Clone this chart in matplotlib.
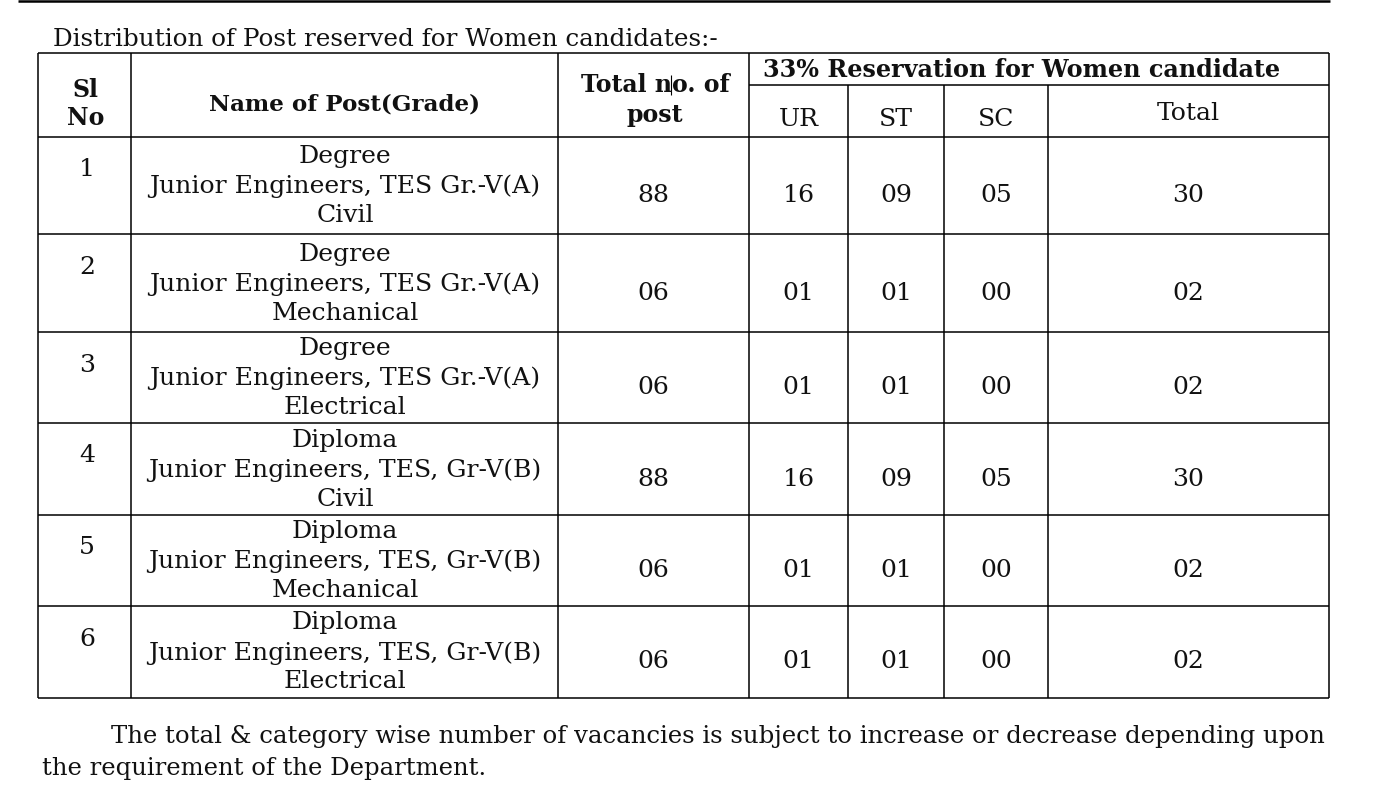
import matplotlib
matplotlib.use("Agg")
import matplotlib.pyplot as plt

# table content
title = "Distribution of Post reserved for Women candidates:-"
sl_no = ["1", "2", "3", "4", "5", "6"]
qualification = ["Degree", "Degree", "Degree", "Diploma", "Diploma", "Diploma"]
post_name = ["Junior Engineers, TES Gr.-V(A)"] * 3 + ["Junior Engineers, TES, Gr-V(B)"] * 3
branch = ["Civil", "Mechanical", "Electrical", "Civil", "Mechanical", "Electrical"]
total_posts = ["88", "06", "06", "88", "06", "06"]
ur = ["16", "01", "01", "16", "01", "01"]
st = ["09", "01", "01", "09", "01", "01"]
sc = ["05", "00", "00", "05", "00", "00"]
total_women = ["30", "02", "02", "30", "02", "02"]
footer1 = "The total & category wise number of vacancies is subject to increase or decrease depending upon"
footer2 = "the requirement of the Department."

# layout in pixel units
W, H = 1379, 806
col_x = [38, 131, 558, 749, 848, 944, 1048, 1329]
row_y = [137, 234, 332, 423, 515, 606, 698]
top_y, sub_y = 53, 85

SERIF = "DejaVu Serif"
BODY = 18.1
BOLD = 17.0

fig = plt.figure(figsize=(W / 100, H / 100), dpi=100)
ax = fig.add_axes([0, 0, 1, 1])
ax.set_xlim(0, W)
ax.set_ylim(H, 0)
ax.axis("off")

lw = 1.1
def hline(y, x0, x1, w=lw):
    ax.plot([x0, x1], [y, y], color="black", lw=w, solid_capstyle="butt")

def vline(x, y0, y1, w=lw):
    ax.plot([x, x], [y0, y1], color="black", lw=w, solid_capstyle="butt")

# top rule
hline(1, 18, 1330, w=1.8)

# grid
hline(top_y, col_x[0], col_x[-1])
hline(sub_y, col_x[3], col_x[-1])
for y in row_y:
    hline(y, col_x[0], col_x[-1])
for i, x in enumerate(col_x):
    y0 = sub_y if i in (4, 5, 6) else top_y
    vline(x, y0, row_y[-1])

def txt(x, y, s, size=BODY, weight="normal", ha="center", **kw):
    ax.text(x, y, s, fontsize=size, fontweight=weight, family=SERIF,
            ha=ha, va="center", color="#111111", **kw)

txt(53, 39, title, size=17.7, ha="left")

# header
txt(86, 90, "Sl", size=BOLD, weight="bold")
txt(86, 118, "No", size=BOLD, weight="bold")
txt(345, 104, "Name of Post(Grade)", size=16.6, weight="bold")
txt(655, 85, "Total no. of", size=BOLD, weight="bold")
txt(655, 115, "post", size=BOLD, weight="bold")
vline(671, 75, 95, w=0.8)
txt(1022, 70, "33% Reservation for Women candidate", size=17.2, weight="bold")
sub_heads = ["UR", "ST", "SC"]
for i, s in enumerate(sub_heads):
    txt((col_x[3 + i] + col_x[4 + i]) / 2, 120, s)
txt((col_x[6] + col_x[7]) / 2, 113, "Total")

# body rows
for r in range(len(sl_no)):
    y0, y1 = row_y[r], row_y[r + 1]
    ym = (y0 + y1) / 2
    txt(87, y0 + 33, sl_no[r])
    txt(345, ym - 29, qualification[r])
    txt(345, ym + 1, post_name[r])
    txt(345, ym + 30, branch[r])
    vals = [total_posts[r], ur[r], st[r], sc[r], total_women[r]]
    for c, v in enumerate(vals):
        txt((col_x[2 + c] + col_x[3 + c]) / 2, ym + 10, v)

txt(111, 737, footer1, size=17.55, ha="left")
txt(42, 768, footer2, size=17.5, ha="left")

fig.savefig("out.png", dpi=100)
